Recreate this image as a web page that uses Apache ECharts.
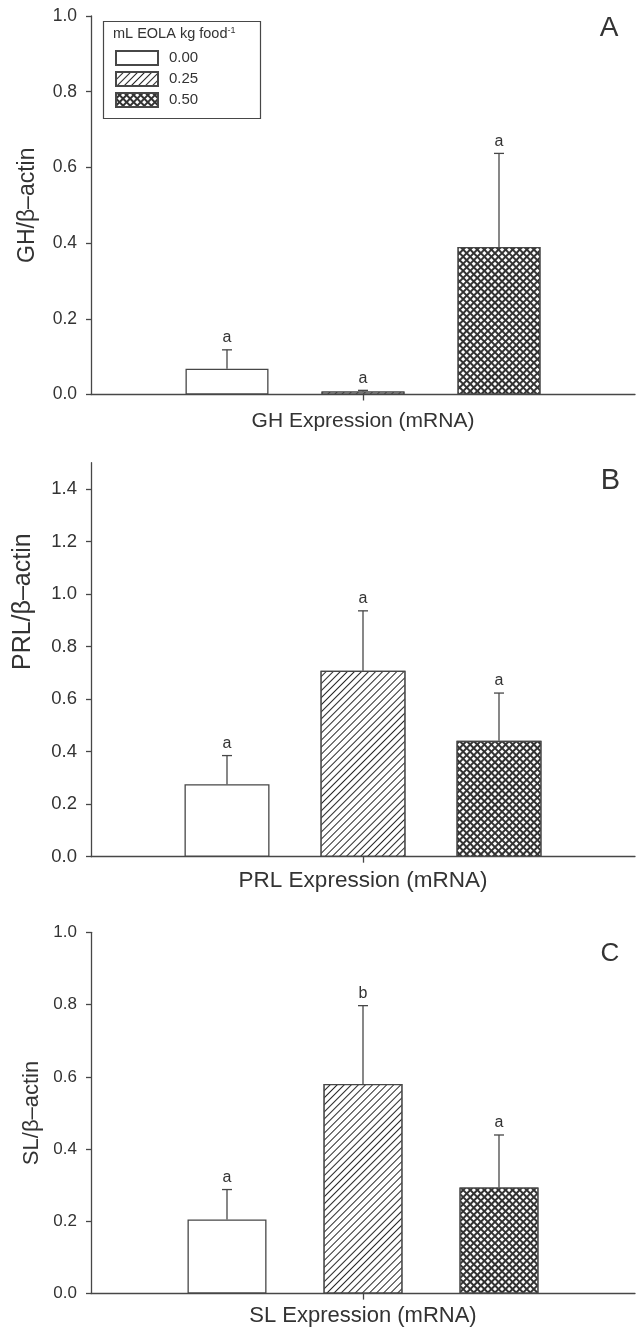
<!DOCTYPE html>
<html>
<head>
<meta charset="utf-8">
<script src="https://cdn.jsdelivr.net/npm/echarts@6/dist/echarts.min.js"></script>
<style>
  html, body { margin: 0; padding: 0; background: #fff; }
  #chart { width: 638px; height: 1327px; }
</style>
</head>
<body>
<div id="chart"></div>
<script>
// ---------- data ----------
const doseLevels = ['0.00', '0.25', '0.50'];

const ghMean = [0.068, 0.008, 0.390];
const ghSE = [0.050, 0.003, 0.247];
const ghLetters = ['a', 'a', 'a'];

const prlMean = [0.276, 0.708, 0.441];
const prlSE = [0.109, 0.228, 0.182];
const prlLetters = ['a', 'a', 'a'];

const slMean = [0.205, 0.580, 0.294];
const slSE = [0.083, 0.217, 0.145];
const slLetters = ['a', 'b', 'a'];

const ghTicks = [0, 0.2, 0.4, 0.6, 0.8, 1.0];
const prlTicks = [0, 0.2, 0.4, 0.6, 0.8, 1.0, 1.2, 1.4];
const slTicks = [0, 0.2, 0.4, 0.6, 0.8, 1.0];

const yMax = [1.0, 1.5, 1.0];
const xLabels = ['GH Expression (mRNA)', 'PRL Expression (mRNA)', 'SL Expression (mRNA)'];
const yTitles = ['GH/\u03b2\u2013actin', 'PRL/\u03b2\u2013actin', 'SL/\u03b2\u2013actin'];
const panelLetters = ['A', 'B', 'C'];
const legendTitle = 'mL EOLA kg food';
const legendTitleSup = '-1';

// slots of the hidden positioning axis (bars sit on the 3 inner slots)
const slots = ['', ...doseLevels, ''];

// ---------- style / layout ----------
const FONT = "'Liberation Sans', Arial, sans-serif";
const TXT = '#333';
const LINE = '#474747';

const means = [ghMean, prlMean, slMean];
const ses = [ghSE, prlSE, slSE];
const letters = [ghLetters, prlLetters, slLetters];
const ticks = [ghTicks, prlTicks, slTicks];

const layout = [
  { top: 16, height: 378.5, barWidth: 83, tickFont: 17.5, nameFont: 23, nameGap: 52, namePad: [0, 0, 0, 0], xFont: 21, xMargin: 16 },
  { top: 462.7, height: 394, barWidth: 85, tickFont: 18.5, nameFont: 25, nameGap: 55, namePad: [0, 0, 0, 116], xFont: 22.5, xMargin: 13 },
  { top: 932.3, height: 361.3, barWidth: 79, tickFont: 17, nameFont: 22, nameGap: 46, namePad: [0, 0, 0, 0], xFont: 22, xMargin: 11 }
];

const fills = [
  { color: '#fff' },
  { color: '#fff', decal: { symbol: 'rect', symbolSize: 1, color: '#2a2a2a', backgroundColor: '#fff',
      dashArrayX: [1, 0], dashArrayY: [1, 4], rotation: -Math.PI / 4 } },
  { color: '#333', decal: { symbol: 'rect', symbolSize: 1, color: '#fff', backgroundColor: '#333',
      dashArrayX: [3, 2], dashArrayY: [3, 2], rotation: Math.PI / 4 } }
];

const grid = [], xAxis = [], yAxis = [], series = [];

layout.forEach((L, p) => {
  grid.push({ left: 91, right: 3, top: L.top, height: L.height, containLabel: false });

  // visible axis: single category with centered tick and label
  xAxis.push({
    type: 'category', gridIndex: p, data: [xLabels[p]], boundaryGap: true,
    axisLine: { show: true, lineStyle: { color: LINE, width: 1.3 } },
    axisTick: { show: true, alignWithLabel: true, length: 6, lineStyle: { color: LINE, width: 1.3 } },
    axisLabel: { color: TXT, fontSize: L.xFont, fontFamily: FONT, margin: L.xMargin },
    splitLine: { show: false }
  });
  // hidden positioning axis for the three dose bars
  xAxis.push({
    type: 'category', gridIndex: p, data: slots, boundaryGap: false, show: false
  });

  yAxis.push({
    type: 'value', gridIndex: p, min: 0, max: yMax[p], interval: 0.2,
    axisLine: { show: true, lineStyle: { color: LINE, width: 1.3 } },
    axisTick: { show: true, inside: false, length: 5, customValues: ticks[p], lineStyle: { color: LINE, width: 1.3 } },
    axisLabel: { customValues: ticks[p], formatter: v => v.toFixed(1), color: TXT, fontSize: L.tickFont, fontFamily: FONT, margin: 14 },
    splitLine: { show: false },
    name: yTitles[p], nameLocation: 'middle', nameGap: L.nameGap,
    nameTextStyle: { color: TXT, fontSize: L.nameFont, fontFamily: FONT, padding: L.namePad }
  });

  doseLevels.forEach((d, i) => {
    series.push({
      type: 'bar', name: d, xAxisIndex: 2 * p + 1, yAxisIndex: p,
      data: slots.map((_, k) => (k === i + 1 ? means[p][i] : '-')),
      barWidth: L.barWidth, barGap: '-100%',
      itemStyle: Object.assign({ borderColor: LINE, borderWidth: 1.3 }, fills[i]),
      silent: true
    });
  });

  const sig = letters[p];
  series.push({
    type: 'custom', xAxisIndex: 2 * p + 1, yAxisIndex: p, z: 10, silent: true,
    data: means[p].map((m, i) => [i + 1, m, ses[p][i]]),
    encode: { x: 0, y: 1 },
    renderItem: (params, api) => {
      const x = api.value(0), m = api.value(1), e = api.value(2);
      const p0 = api.coord([x, m]);
      const p1 = api.coord([x, m + e]);
      return {
        type: 'group',
        children: [
          { type: 'line', shape: { x1: p0[0], y1: p0[1], x2: p1[0], y2: p1[1] },
            style: { stroke: LINE, lineWidth: 1.3 } },
          { type: 'line', shape: { x1: p1[0] - 5, y1: p1[1], x2: p1[0] + 5, y2: p1[1] },
            style: { stroke: LINE, lineWidth: 1.3 } },
          { type: 'text', x: p1[0], y: p1[1] - 4,
            style: { text: sig[params.dataIndex], fill: TXT, font: '16px ' + FONT,
                     textAlign: 'center', textVerticalAlign: 'bottom' } }
        ]
      };
    }
  });
});

const option = {
  animation: false,
  backgroundColor: '#fff',
  grid, xAxis, yAxis, series,
  legend: {
    data: doseLevels, left: 115, top: 50, orient: 'vertical', icon: 'rect',
    itemWidth: 42, itemHeight: 14, itemGap: 5, padding: 0, selectedMode: false,
    textStyle: { color: TXT, fontSize: 15, fontFamily: FONT, padding: [0, 0, 0, 6] }
  },
  graphic: [
    { type: 'rect', shape: { x: 103.5, y: 21.5, width: 157, height: 97 },
      style: { fill: 'none', stroke: LINE, lineWidth: 1.2 }, z: 100, silent: true },
    { type: 'text', x: 113, y: 26, z: 100, silent: true,
      style: { text: '{a|' + legendTitle + '}{s|' + legendTitleSup + '}',
        rich: { a: { fontSize: 14.5, fontFamily: FONT, fill: TXT, color: TXT },
                s: { fontSize: 9, fontFamily: FONT, fill: TXT, color: TXT, verticalAlign: 'top' } } } },
    { type: 'text', x: 609, y: 28.3, silent: true,
      style: { text: panelLetters[0], font: '28px ' + FONT, fill: TXT, textAlign: 'center', textVerticalAlign: 'middle' } },
    { type: 'text', x: 610.5, y: 481, silent: true,
      style: { text: panelLetters[1], font: '29px ' + FONT, fill: TXT, textAlign: 'center', textVerticalAlign: 'middle' } },
    { type: 'text', x: 610, y: 954, silent: true,
      style: { text: panelLetters[2], font: '26px ' + FONT, fill: TXT, textAlign: 'center', textVerticalAlign: 'middle' } }
  ]
};

const chart = echarts.init(document.getElementById('chart'), null, { renderer: 'canvas' });
chart.setOption(option);
</script>
</body>
</html>
